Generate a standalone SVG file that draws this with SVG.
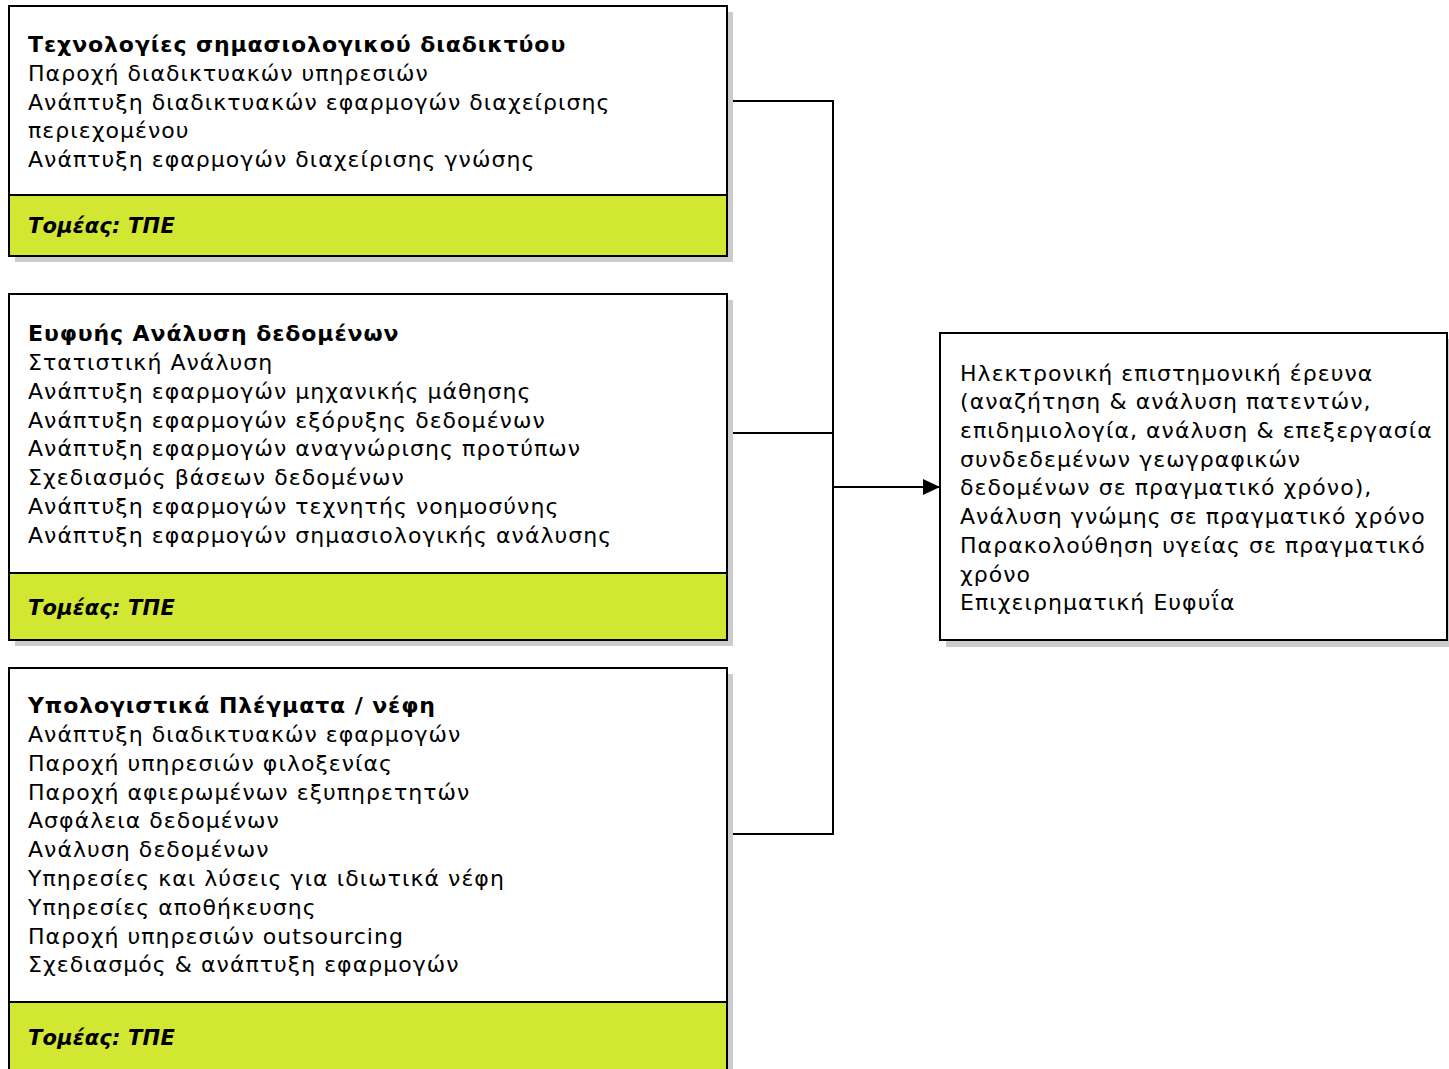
<svg xmlns="http://www.w3.org/2000/svg" width="1449" height="1069" viewBox="0 0 1449 1069">
<style>
text{font-family:"DejaVu Sans","Verdana",sans-serif;font-size:22px;fill:#000;letter-spacing:1.05px}
.b{font-weight:bold;letter-spacing:0.9px}
.s{font-weight:bold;font-style:italic;font-size:21px;letter-spacing:0.2px}
.box{fill:#fff;stroke:#000;stroke-width:2}
.grn{fill:#d2e731;stroke:#000;stroke-width:2}
.sh{fill:#cccccc}
.ln{fill:none;stroke:#000;stroke-width:2}
</style>
<defs>
<marker id="ah" markerWidth="17" markerHeight="16" refX="17" refY="8" orient="auto" markerUnits="userSpaceOnUse" viewBox="0 0 17 16">
<path d="M0,0 L17,8 L0,16 z" fill="#000"/>
</marker>
</defs>
<g id="connectors">
<polyline class="ln" points="727,101 833,101 833,834 727,834"/>
<line class="ln" x1="727" y1="433" x2="833" y2="433"/>
<line class="ln" x1="833" y1="487" x2="940" y2="487" stroke-width="2.5" marker-end="url(#ah)"/>
</g>
<g id="node1">
<rect class="sh" x="15" y="12" width="718" height="250"/>
<rect class="box" x="9" y="6" width="718" height="189"/>
<rect class="grn" x="9" y="195" width="718" height="61"/>
<text class="b" x="28" y="52">Τεχνολογίες σημασιολογικού διαδικτύου</text>
<text x="28" y="81">Παροχή διαδικτυακών υπηρεσιών</text>
<text x="28" y="110">Ανάπτυξη διαδικτυακών εφαρμογών διαχείρισης</text>
<text x="28" y="138">περιεχομένου</text>
<text x="28" y="167">Ανάπτυξη εφαρμογών διαχείρισης γνώσης</text>
<text class="s" x="28" y="233">Τομέας: ΤΠΕ</text>
</g>
<g id="node2">
<rect class="sh" x="15" y="300" width="718" height="346"/>
<rect class="box" x="9" y="294" width="718" height="279"/>
<rect class="grn" x="9" y="573" width="718" height="67"/>
<text class="b" x="28" y="341">Ευφυής Ανάλυση δεδομένων</text>
<text x="28" y="370">Στατιστική Ανάλυση</text>
<text x="28" y="399">Ανάπτυξη εφαρμογών μηχανικής μάθησης</text>
<text x="28" y="428">Ανάπτυξη εφαρμογών εξόρυξης δεδομένων</text>
<text x="28" y="456">Ανάπτυξη εφαρμογών αναγνώρισης προτύπων</text>
<text x="28" y="485">Σχεδιασμός βάσεων δεδομένων</text>
<text x="28" y="514">Ανάπτυξη εφαρμογών τεχνητής νοημοσύνης</text>
<text x="28" y="543">Ανάπτυξη εφαρμογών σημασιολογικής ανάλυσης</text>
<text class="s" x="28" y="615">Τομέας: ΤΠΕ</text>
</g>
<g id="node3">
<rect class="sh" x="15" y="674" width="718" height="400"/>
<rect class="box" x="9" y="668" width="718" height="334"/>
<rect class="grn" x="9" y="1002" width="718" height="80"/>
<text class="b" x="28" y="713">Υπολογιστικά Πλέγματα / νέφη</text>
<text x="28" y="742">Ανάπτυξη διαδικτυακών εφαρμογών</text>
<text x="28" y="771">Παροχή υπηρεσιών φιλοξενίας</text>
<text x="28" y="800">Παροχή αφιερωμένων εξυπηρετητών</text>
<text x="28" y="828">Ασφάλεια δεδομένων</text>
<text x="28" y="857">Ανάλυση δεδομένων</text>
<text x="28" y="886">Υπηρεσίες και λύσεις για ιδιωτικά νέφη</text>
<text x="28" y="915">Υπηρεσίες αποθήκευσης</text>
<text x="28" y="944">Παροχή υπηρεσιών outsourcing</text>
<text x="28" y="972">Σχεδιασμός &amp; ανάπτυξη εφαρμογών</text>
<text class="s" x="28" y="1045">Τομέας: ΤΠΕ</text>
</g>
<g id="node4">
<rect class="sh" x="946" y="339" width="507" height="308"/>
<rect class="box" x="940" y="333" width="507" height="307"/>
<text x="960" y="381">Ηλεκτρονική επιστημονική έρευνα</text>
<text x="960" y="409">(αναζήτηση &amp; ανάλυση πατεντών,</text>
<text x="960" y="438">επιδημιολογία, ανάλυση &amp; επεξεργασία</text>
<text x="960" y="467">συνδεδεμένων γεωγραφικών</text>
<text x="960" y="495">δεδομένων σε πραγματικό χρόνο),</text>
<text x="960" y="524">Ανάλυση γνώμης σε πραγματικό χρόνο</text>
<text x="960" y="553">Παρακολούθηση υγείας σε πραγματικό</text>
<text x="960" y="582">χρόνο</text>
<text x="960" y="610">Επιχειρηματική Ευφυΐα</text>
</g>
</svg>
